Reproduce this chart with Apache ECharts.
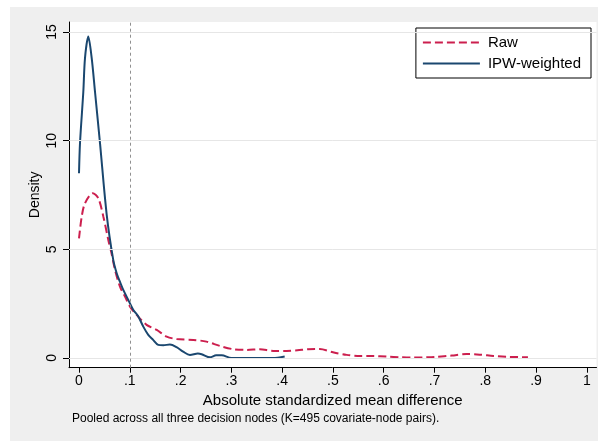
<!DOCTYPE html>
<html>
<head>
<meta charset="utf-8">
<script src="https://cdn.jsdelivr.net/npm/echarts@6/dist/echarts.min.js"></script>
<style>
html,body{margin:0;padding:0;background:#fff;}
#c{width:598px;height:441px;}
</style>
</head>
<body>
<div id="c"></div>
<script>
// ---- data ----
const rawSmd = [0, 0.0053, 0.0118, 0.027, 0.038, 0.048, 0.0577, 0.064, 0.0709, 0.0807, 0.0906, 0.1004, 0.1135, 0.133, 0.153, 0.1726, 0.192, 0.225, 0.251, 0.2776, 0.304, 0.33, 0.356, 0.3825, 0.409, 0.43, 0.451, 0.474, 0.5, 0.527, 0.553, 0.579, 0.606, 0.632, 0.658, 0.684, 0.704, 0.734, 0.763, 0.789, 0.816, 0.842, 0.865, 0.884];
const rawDensity = [5.5, 6.5, 7.12, 7.58, 7.35, 6.5, 5.43, 4.82, 4.05, 3.28, 2.82, 2.36, 1.98, 1.52, 1.29, 0.98, 0.87, 0.83, 0.75, 0.55, 0.4, 0.37, 0.4, 0.32, 0.32, 0.35, 0.4, 0.41, 0.26, 0.14, 0.09, 0.09, 0.06, 0.03, 0.015, 0.03, 0.05, 0.11, 0.18, 0.15, 0.09, 0.05, 0.04, 0.03];
const ipwSmd = [0, 0.002, 0.0085, 0.0118, 0.0183, 0.025, 0.0315, 0.0413, 0.0545, 0.0675, 0.0742, 0.0807, 0.0872, 0.097, 0.107, 0.117, 0.1266, 0.1364, 0.146, 0.156, 0.166, 0.179, 0.192, 0.205, 0.2185, 0.234, 0.2415, 0.258, 0.27, 0.281, 0.3, 0.382, 0.405];
const ipwDensity = [8.5, 9.9, 12.25, 13.8, 14.79, 13.8, 12.25, 9.9, 6.6, 4.5, 3.9, 3.5, 3.13, 2.67, 2.21, 1.9, 1.44, 1.06, 0.83, 0.6, 0.58, 0.62, 0.5, 0.29, 0.14, 0.2, 0.17, 0.03, 0.12, 0.12, 0, 0, 0.07];
const xTicks = [0, 0.1, 0.2, 0.3, 0.4, 0.5, 0.6, 0.7, 0.8, 0.9, 1];
const xTickLabels = ['0', '.1', '.2', '.3', '.4', '.5', '.6', '.7', '.8', '.9', '1'];
const yTicks = [0, 5, 10, 15];
const yTickLabels = ['0', '5', '10', '15'];
const thresholdSmd = [0.1];
const seriesNames = ['Raw', 'IPW-weighted'];
const xTitle = 'Absolute standardized mean difference';
const yTitle = 'Density';
const note = 'Pooled across all three decision nodes (K=495 covariate-node pairs).';

const FONT = '"Liberation Sans", Arial, Helvetica, sans-serif';
const zip = (a, b) => a.map((v, i) => [v, b[i]]);

const chart = echarts.init(document.getElementById('c'), null, {renderer: 'canvas'});
chart.setOption({
  backgroundColor: '#ffffff',
  animation: false,
  textStyle: {fontFamily: FONT},
  graphic: [
    {type: 'rect', z: -100, silent: true, shape: {x: 10, y: 7, width: 588, height: 434}, style: {fill: '#efefef'}},
    {type: 'text', left: 72, top: 413, silent: true, style: {text: note, fontSize: 12, fontFamily: FONT, fill: '#000'}}
  ],
  grid: {left: 69, top: 22, right: 1.5, bottom: 73.3, show: true, backgroundColor: '#ffffff', borderWidth: 0, containLabel: false},
  legend: {
    orient: 'vertical', right: 7, top: 28,
    itemWidth: 57, itemHeight: 14, itemGap: 6,
    padding: [7, 10, 7, 6],
    borderColor: '#000', borderWidth: 1, backgroundColor: '#fff', borderRadius: 0,
    itemStyle: {opacity: 0, borderWidth: 0},
    textStyle: {fontSize: 15, color: '#000', fontFamily: FONT, padding: [0, 0, 0, 3]},
    data: seriesNames
  },
  xAxis: {
    type: 'value', min: -0.0197, max: 1.019,
    name: xTitle, nameLocation: 'middle', nameGap: 26,
    nameTextStyle: {fontSize: 15, color: '#000', fontFamily: FONT},
    axisLine: {show: true, onZero: false, lineStyle: {color: '#000', width: 1}},
    axisTick: {show: true, customValues: xTicks, length: 5, lineStyle: {color: '#000'}},
    axisLabel: {customValues: xTicks, formatter: v => xTickLabels[xTicks.findIndex(t => Math.abs(t - v) < 1e-9)] ?? '', fontSize: 14, color: '#000', margin: 6, fontFamily: FONT},
    splitLine: {show: false}
  },
  yAxis: {
    type: 'value', min: -0.45, max: 15.46,
    name: yTitle, nameLocation: 'middle', nameGap: 27, nameRotate: 90, nameMoveOverlap: false,
    nameTextStyle: {fontSize: 14, color: '#000', fontFamily: FONT},
    axisLine: {show: true, onZero: false, lineStyle: {color: '#000', width: 1}},
    axisTick: {show: true, customValues: yTicks, length: 6, lineStyle: {color: '#000'}},
    axisLabel: {customValues: yTicks, rotate: 90, formatter: v => yTickLabels[yTicks.indexOf(v)] ?? '', fontSize: 14, color: '#000', margin: 10, fontFamily: FONT},
    splitLine: {show: false}
  },
  series: [
    {
      name: seriesNames[0], type: 'line', data: zip(rawSmd, rawDensity),
      symbol: 'none', showSymbol: false, smooth: 0.3, z: 3,
      itemStyle: {color: '#cc1f4e'},
      lineStyle: {color: '#cc1f4e', width: 2, type: [8, 4]},
      markLine: {
        silent: true, symbol: 'none', label: {show: false}, animation: false,
        lineStyle: {color: '#e6e6e6', width: 1, type: 'solid'},
        data: yTicks.map(v => ({yAxis: v}))
      }
    },
    {
      name: seriesNames[1], type: 'line', data: zip(ipwSmd, ipwDensity),
      symbol: 'none', showSymbol: false, smooth: 0.3, z: 4,
      itemStyle: {color: '#1a476f'},
      lineStyle: {color: '#1a476f', width: 2, type: 'solid'},
      markLine: {
        silent: true, symbol: 'none', label: {show: false}, animation: false,
        lineStyle: {color: '#909090', width: 1, type: [3, 3]},
        data: thresholdSmd.map(v => ({xAxis: v}))
      }
    }
  ]
});
</script>
</body>
</html>
